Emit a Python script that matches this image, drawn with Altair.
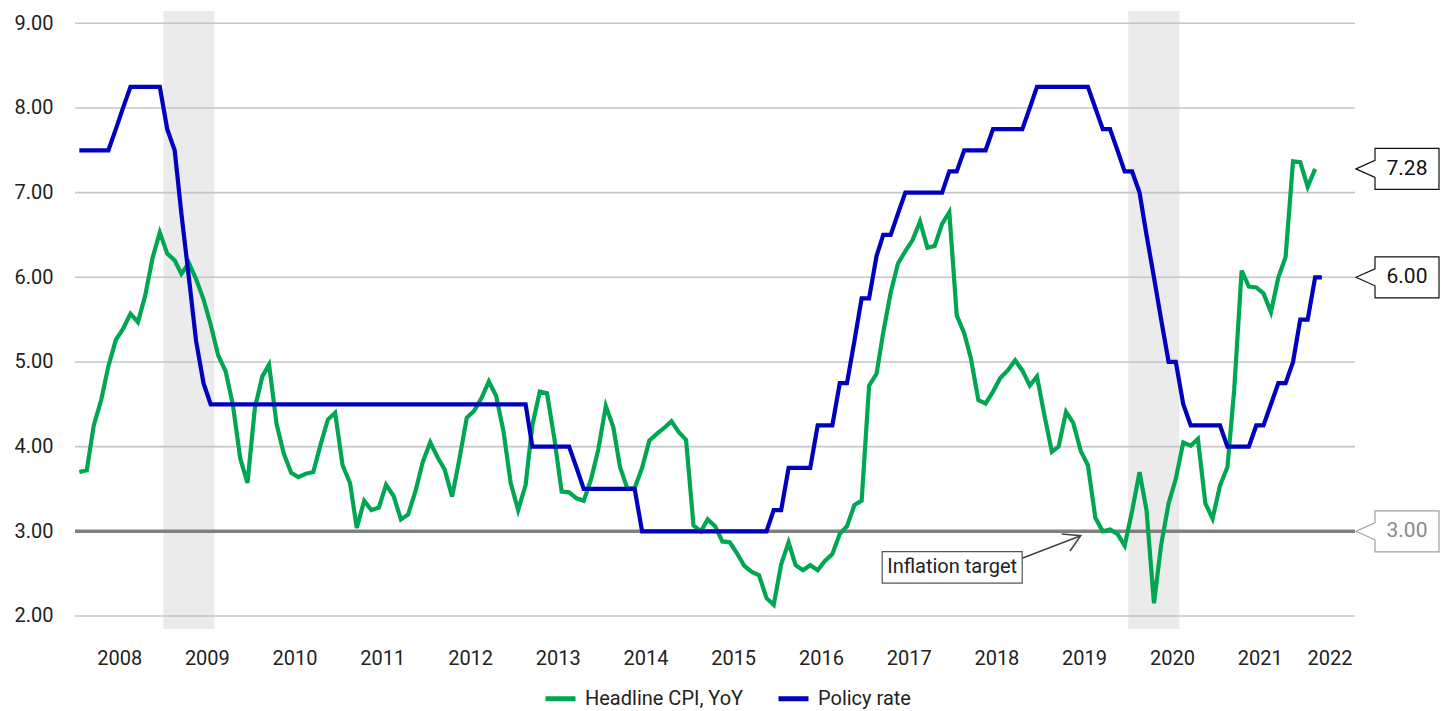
import altair as alt
import pandas as pd

FONT = "Roboto"

# ---------------- data ----------------
start_month = "2008-01-01"

cpi_yoy = [
    3.70, 3.72, 4.25, 4.55, 4.95, 5.26, 5.39, 5.57, 5.47, 5.78, 6.23, 6.53,  # 2008
    6.28, 6.20, 6.04, 6.17, 5.98, 5.74, 5.44, 5.08, 4.89, 4.50, 3.86, 3.57,  # 2009
    4.46, 4.83, 4.97, 4.27, 3.92, 3.69, 3.64, 3.68, 3.70, 4.02, 4.32, 4.40,  # 2010
    3.78, 3.57, 3.04, 3.36, 3.25, 3.28, 3.55, 3.42, 3.14, 3.20, 3.48, 3.82,  # 2011
    4.05, 3.87, 3.73, 3.41, 3.85, 4.34, 4.42, 4.57, 4.77, 4.60, 4.18, 3.57,  # 2012
    3.25, 3.55, 4.25, 4.65, 4.63, 4.09, 3.47, 3.46, 3.39, 3.36, 3.62, 3.97,  # 2013
    4.48, 4.23, 3.76, 3.50, 3.51, 3.75, 4.07, 4.15, 4.22, 4.30, 4.17, 4.08,  # 2014
    3.07, 3.00, 3.14, 3.06, 2.88, 2.87, 2.74, 2.59, 2.52, 2.48, 2.21, 2.13,  # 2015
    2.61, 2.87, 2.60, 2.54, 2.60, 2.54, 2.65, 2.73, 2.97, 3.06, 3.31, 3.36,  # 2016
    4.72, 4.86, 5.35, 5.82, 6.16, 6.31, 6.44, 6.66, 6.35, 6.37, 6.63, 6.77,  # 2017
    5.55, 5.34, 5.04, 4.55, 4.51, 4.65, 4.81, 4.90, 5.02, 4.90, 4.72, 4.83,  # 2018
    4.37, 3.94, 4.00, 4.41, 4.28, 3.95, 3.78, 3.16, 3.00, 3.02, 2.97, 2.83,  # 2019
    3.24, 3.70, 3.25, 2.15, 2.84, 3.33, 3.62, 4.05, 4.01, 4.09, 3.33, 3.15,  # 2020
    3.54, 3.76, 4.67, 6.08, 5.89, 5.88, 5.81, 5.59, 6.00, 6.24, 7.37, 7.36,  # 2021
    7.07, 7.28,                                                              # 2022
]

policy_rate = [
    7.50, 7.50, 7.50, 7.50, 7.50, 7.75, 8.00, 8.25, 8.25, 8.25, 8.25, 8.25,  # 2008
    7.75, 7.50, 6.75, 6.00, 5.25, 4.75, 4.50, 4.50, 4.50, 4.50, 4.50, 4.50,  # 2009
    4.50, 4.50, 4.50, 4.50, 4.50, 4.50, 4.50, 4.50, 4.50, 4.50, 4.50, 4.50,  # 2010
    4.50, 4.50, 4.50, 4.50, 4.50, 4.50, 4.50, 4.50, 4.50, 4.50, 4.50, 4.50,  # 2011
    4.50, 4.50, 4.50, 4.50, 4.50, 4.50, 4.50, 4.50, 4.50, 4.50, 4.50, 4.50,  # 2012
    4.50, 4.50, 4.00, 4.00, 4.00, 4.00, 4.00, 4.00, 3.75, 3.50, 3.50, 3.50,  # 2013
    3.50, 3.50, 3.50, 3.50, 3.50, 3.00, 3.00, 3.00, 3.00, 3.00, 3.00, 3.00,  # 2014
    3.00, 3.00, 3.00, 3.00, 3.00, 3.00, 3.00, 3.00, 3.00, 3.00, 3.00, 3.25,  # 2015
    3.25, 3.75, 3.75, 3.75, 3.75, 4.25, 4.25, 4.25, 4.75, 4.75, 5.25, 5.75,  # 2016
    5.75, 6.25, 6.50, 6.50, 6.75, 7.00, 7.00, 7.00, 7.00, 7.00, 7.00, 7.25,  # 2017
    7.25, 7.50, 7.50, 7.50, 7.50, 7.75, 7.75, 7.75, 7.75, 7.75, 8.00, 8.25,  # 2018
    8.25, 8.25, 8.25, 8.25, 8.25, 8.25, 8.25, 8.00, 7.75, 7.75, 7.50, 7.25,  # 2019
    7.25, 7.00, 6.50, 6.00, 5.50, 5.00, 5.00, 4.50, 4.25, 4.25, 4.25, 4.25,  # 2020
    4.25, 4.00, 4.00, 4.00, 4.00, 4.25, 4.25, 4.50, 4.75, 4.75, 5.00, 5.50,  # 2021
    5.50, 6.00, 6.00,                                                        # 2022
]

series_names = ["Headline CPI, YoY", "Policy rate"]
series_colors = ["#00A651", "#0000BF"]

inflation_target = 3.00
y_gridlines = [2, 3, 4, 5, 6, 7, 8, 9]

band_starts = ["2008-12-16", "2019-12-16"]
band_ends = ["2009-07-16", "2020-07-16"]

x_domain = ["2007-12-14", "2022-07-17"]
year_label_dates = ["2008-06-15", "2009-06-15", "2010-06-15", "2011-06-15", "2012-06-15",
                    "2013-06-15", "2014-06-15", "2015-06-15", "2016-06-15", "2017-06-15",
                    "2018-06-15", "2019-06-15", "2020-06-15", "2021-06-15", "2022-04-02"]

annot_text = "Inflation target"
annot_text_pos = ("2017-12-13", 2.574)
annot_arrow_from = ("2018-09-30", 2.681)
annot_arrow_to = ("2019-06-01", 2.948)

# ---------------- tables ----------------
cpi_dates = pd.date_range(start_month, periods=len(cpi_yoy), freq="MS")
pol_dates = pd.date_range(start_month, periods=len(policy_rate), freq="MS")
lines_df = pd.concat([
    pd.DataFrame({"date": cpi_dates.strftime("%Y-%m-%d"), "value": cpi_yoy, "series": series_names[0]}),
    pd.DataFrame({"date": pol_dates.strftime("%Y-%m-%d"), "value": policy_rate, "series": series_names[1]}),
], ignore_index=True)

bands_df = pd.DataFrame({"date": band_starts, "end": band_ends})
grid_df = pd.DataFrame({"value": [v for v in y_gridlines if v != inflation_target]})
target_df = pd.DataFrame({"value": [inflation_target]})

callout_dark = pd.DataFrame({
    "date": [x_domain[1]] * 2,
    "value": [cpi_yoy[-1], policy_rate[-1]],
})
callout_dark["label"] = callout_dark["value"].map(lambda v: f"{v:.2f}")
callout_target = pd.DataFrame({"date": [x_domain[1]], "value": [inflation_target]})
callout_target["label"] = callout_target["value"].map(lambda v: f"{v:.2f}")

annot_df = pd.DataFrame({"date": [annot_text_pos[0]], "value": [annot_text_pos[1]], "label": [annot_text]})
arrow_df = pd.DataFrame({"date": [annot_arrow_from[0]], "value": [annot_arrow_from[1]],
                         "date2": [annot_arrow_to[0]], "value2": [annot_arrow_to[1]]})
arrow_tip_df = pd.DataFrame({"date": [annot_arrow_to[0]], "value": [annot_arrow_to[1]]})


def dt(s):
    y, m, d = (int(p) for p in s.split("-"))
    return alt.DateTime(year=y, month=m, date=d, utc=True)


X = alt.X(
    "date:T",
    title=None,
    scale=alt.Scale(domain=[dt(x_domain[0]), dt(x_domain[1])]),
    axis=alt.Axis(
        values=[dt(s) for s in year_label_dates],
        labelExpr="utcFormat(datum.value, '%Y')",
        grid=False, domain=False, ticks=False,
        labelPadding=19, labelFontSize=20, labelFont=FONT, labelColor="#222222",
        labelOverlap=False, labelFlush=False,
    ),
)
Y = alt.Y(
    "value:Q",
    title=None,
    scale=alt.Scale(domain=[1.846, 9.145], nice=False, zero=False),
    axis=alt.Axis(
        values=y_gridlines, format=".2f",
        grid=False, domain=False, ticks=False,
        labelPadding=22, labelFontSize=20, labelFont=FONT, labelColor="#222222",
        labelOverlap=False, labelFlush=False,
    ),
)

bands = alt.Chart(bands_df).mark_rect(color="#ebebeb").encode(x=X, x2="end:T")
grid = alt.Chart(grid_df).mark_rule(color="#c6c6ca", strokeWidth=1.6).encode(y=Y)
target = alt.Chart(target_df).mark_rule(color="#808080", strokeWidth=3.5).encode(y=Y)

lines = alt.Chart(lines_df).mark_line(strokeWidth=4.2).encode(
    x=X, y=Y,
    color=alt.Color(
        "series:N",
        scale=alt.Scale(domain=series_names, range=series_colors),
        legend=alt.Legend(
            title=None, orient="none", legendX=468, legendY=670, direction="horizontal",
            symbolType="stroke", symbolSize=900, symbolStrokeWidth=5,
            labelFontSize=20, labelFont=FONT, labelColor="#222222", labelOffset=7,
            columnPadding=24, labelLimit=400,
        ),
    ),
)

callout_path = "M0.01,0L0.2,-0.085L0.2,-0.205L0.84,-0.205L0.84,0.205L0.2,0.205L0.2,0.085Z"
callout_box_dark = alt.Chart(callout_dark).mark_point(
    shape=callout_path, size=40000, fill="white", filled=False, stroke="#111111",
    strokeWidth=1.2, opacity=1,
).encode(x=X, y=Y)
callout_text_dark = alt.Chart(callout_dark).mark_text(
    font=FONT, fontSize=21, color="#111111", align="center", baseline="middle", dx=52,
).encode(x=X, y=Y, text="label:N")
callout_box_t = alt.Chart(callout_target).mark_point(
    shape=callout_path, size=40000, fill="white", filled=False, stroke="#a0a0a0",
    strokeWidth=1.2, opacity=1,
).encode(x=X, y=Y)
callout_text_t = alt.Chart(callout_target).mark_text(
    font=FONT, fontSize=21, color="#8a8a8a", align="center", baseline="middle", dx=52,
).encode(x=X, y=Y, text="label:N")

arrow_shaft = alt.Chart(arrow_df).mark_rule(color="#444444", strokeWidth=1.6).encode(
    x=X, y=Y, x2="date2:T", y2="value2:Q")
arrow_head = alt.Chart(arrow_tip_df).mark_point(
    shape="M-0.19,-0.017L0,0L-0.107,0.153", size=40000, filled=False,
    stroke="#444444", strokeWidth=1.6, opacity=1,
).encode(x=X, y=Y)
annot_box = alt.Chart(annot_df).mark_point(
    shape="M-0.70,-0.157L0.70,-0.157L0.70,0.157L-0.70,0.157Z", size=40000,
    fill="white", filled=False, stroke="#555555", strokeWidth=1.2, opacity=1,
).encode(x=X, y=Y)
annot_label = alt.Chart(annot_df).mark_text(
    font=FONT, fontSize=20, color="#222222", align="center", baseline="middle",
).encode(x=X, y=Y, text="label:N")

chart = alt.layer(
    bands, grid, target, lines,
    arrow_shaft, arrow_head, annot_box, annot_label,
    callout_box_dark, callout_text_dark, callout_box_t, callout_text_t,
).properties(
    width=1280, height=618,
    autosize=alt.AutoSizeParams(type="none"),
    padding={"left": 67, "top": 3, "right": 86, "bottom": 82},
    background="white",
).configure_view(stroke=None)

chart.save("out.html", embed_options={"renderer": "svg", "actions": False})
